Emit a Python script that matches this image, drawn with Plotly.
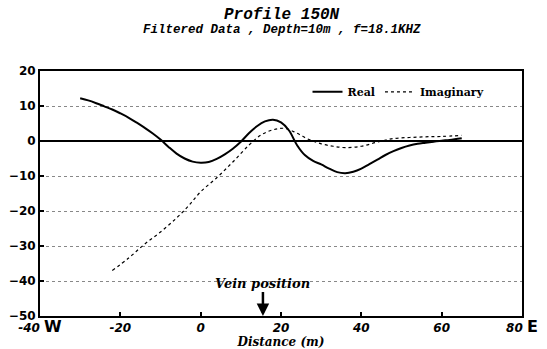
import plotly.graph_objects as go

real_x = [-30, -28, -26, -24, -22, -20, -18, -16, -14, -12, -10, -8, -6, -4, -2, 0, 2, 4, 6, 8, 10, 12, 14, 16, 18,
          20, 22, 24, 26, 28, 30, 32, 34, 36, 38, 40, 42, 44, 46, 48, 50, 52, 54, 56, 58, 60, 62, 65]
real_y = [12.2, 11.6, 10.8, 9.9, 9.0, 7.9, 6.7, 5.3, 3.8, 2.2, 0.4, -1.7, -3.6, -5.0, -5.9, -6.2, -6.0, -5.1, -3.8,
          -2.2, -0.2, 2.2, 4.2, 5.6, 6.1, 5.3, 3.0, -1.2, -4.1, -5.7, -6.7, -7.9, -8.9, -9.2, -8.8, -7.9, -6.6,
          -5.3, -4.0, -2.9, -2.0, -1.3, -0.8, -0.5, -0.2, 0.1, 0.3, 0.8]

imag_x = [-22, -18, -14, -10, -6, -3, 0, 4, 8, 12, 15, 18, 21, 24, 27, 30, 33, 36, 40, 44, 48, 52, 56, 60, 65]
imag_y = [-37, -33.5, -29.5, -26, -22, -18.5, -14.5, -10.5, -6, -1.2, 1.7, 3.2, 3.6, 2.2, 0.4, -0.8, -1.5, -1.9,
          -1.5, -0.3, 0.7, 1.0, 1.2, 1.3, 1.6]

x_ticks = [-40, -20, 0, 20, 40, 60, 80]
x_ticktext = ["-40 <span style='font-style:normal;font-size:16px'>W</span>", "-20", "0", "20", "40", "60",
              "80 <span style='font-style:normal;font-size:16px'>E</span>"]
y_ticks = [20, 10, 0, -10, -20, -30, -40, -50]

vein_x = 15.5

title_main = "Profile 150N"
title_sub = "Filtered Data , Depth=10m , f=18.1KHZ"

fig = go.Figure()
fig.add_trace(go.Scatter(x=real_x, y=real_y, mode="lines", name="<b>Real</b>",
                         line=dict(color="black", width=2, shape="spline", smoothing=1.0)))
fig.add_trace(go.Scatter(x=imag_x, y=imag_y, mode="lines", name="<b>Imaginary</b>",
                         line=dict(color="black", width=1.2, dash="dot", shape="spline", smoothing=1.0)))

fig.add_annotation(x=vein_x, y=-50, ax=vein_x, ay=-40.6, axref="x", ayref="y", xref="x", yref="y",
                   text="<b><i>Vein position</i></b>", showarrow=True, arrowhead=2, arrowsize=1,
                   arrowwidth=2.5, arrowcolor="black", standoff=0,
                   font=dict(family="DejaVu Serif", size=13, color="black"))

fig.add_annotation(x=0.502, y=1.229, xref="paper", yref="paper", yanchor="middle", xanchor="center",
                   text="<b><i>" + title_main + "</i></b>", showarrow=False,
                   font=dict(family="Liberation Mono", size=16, color="black"))
fig.add_annotation(x=0.502, y=1.167, xref="paper", yref="paper", yanchor="middle", xanchor="center",
                   text="<b><i>" + title_sub + "</i></b>", showarrow=False,
                   font=dict(family="Liberation Mono", size=12.5, color="black"))

fig.update_layout(
    width=547, height=349,
    margin=dict(l=40, r=25, t=71, b=33),
    paper_bgcolor="white", plot_bgcolor="white",
    showlegend=True,
    legend=dict(x=0.555, y=0.915, xanchor="left", yanchor="middle", orientation="h",
                bgcolor="rgba(0,0,0,0)", font=dict(family="DejaVu Serif", size=11, color="black"),
                itemwidth=30),
    xaxis=dict(range=[-40, 80], tickvals=x_ticks, ticktext=x_ticktext, showgrid=False, zeroline=False,
               automargin=False,
               showline=True, linecolor="black", linewidth=2, mirror=True,
               ticks="inside", ticklen=4, tickcolor="black", tickwidth=1.5,
               tickfont=dict(family="DejaVu Sans", size=12, color="black", weight="bold", style="italic"),
               title=dict(text="<b><i>Distance (m)</i></b>", standoff=5,
                          font=dict(family="DejaVu Serif", size=12, color="black"))),
    yaxis=dict(range=[-50, 20], tickvals=y_ticks, showgrid=True, gridcolor="#888888", griddash="dot",
               automargin=False,
               gridwidth=1, zeroline=True, zerolinecolor="black", zerolinewidth=2,
               showline=True, linecolor="black", linewidth=2, mirror=True,
               ticks="inside", ticklen=4, tickcolor="black", tickwidth=1.5,
               tickfont=dict(family="DejaVu Sans", size=12, color="black", weight="bold")),
)
fig.write_html("out.html", config={"displayModeBar": False},
               post_script="document.body.style.margin='0';document.body.style.overflow='hidden';")
